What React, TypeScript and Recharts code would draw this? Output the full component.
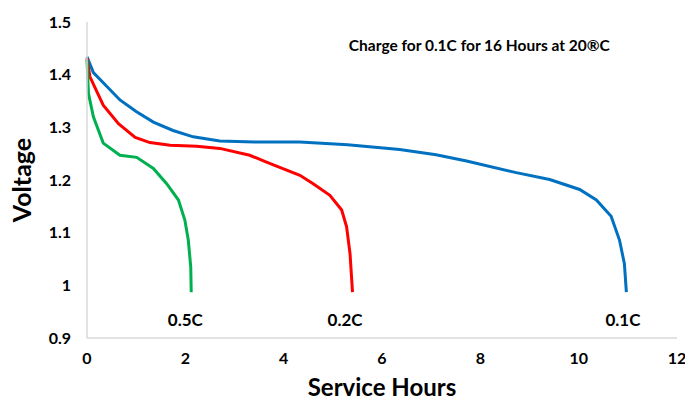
import React from 'react';
import { LineChart, Line, XAxis, YAxis, ReferenceDot, Label } from 'recharts';

// hours, volts
const rate01C = [
  { h: 0, v: 1.434 }, { h: 0.13, v: 1.404 }, { h: 0.4, v: 1.378 }, { h: 0.67, v: 1.352 },
  { h: 1.0, v: 1.33 }, { h: 1.35, v: 1.31 }, { h: 1.75, v: 1.294 }, { h: 2.16, v: 1.282 },
  { h: 2.7, v: 1.274 }, { h: 3.4, v: 1.272 }, { h: 4.33, v: 1.272 }, { h: 5.3, v: 1.267 },
  { h: 6.36, v: 1.258 }, { h: 7.1, v: 1.248 }, { h: 7.72, v: 1.236 }, { h: 8.73, v: 1.214 },
  { h: 9.41, v: 1.201 }, { h: 10.02, v: 1.182 }, { h: 10.36, v: 1.162 }, { h: 10.66, v: 1.131 },
  { h: 10.83, v: 1.086 }, { h: 10.93, v: 1.041 }, { h: 10.97, v: 0.987 },
];

const rate02C = [
  { h: 0, v: 1.431 }, { h: 0.06, v: 1.396 }, { h: 0.33, v: 1.342 }, { h: 0.64, v: 1.307 },
  { h: 0.98, v: 1.281 }, { h: 1.28, v: 1.271 }, { h: 1.69, v: 1.266 }, { h: 2.23, v: 1.264 },
  { h: 2.7, v: 1.26 }, { h: 3.31, v: 1.247 }, { h: 3.65, v: 1.234 }, { h: 4.33, v: 1.209 },
  { h: 4.6, v: 1.193 }, { h: 4.94, v: 1.171 }, { h: 5.18, v: 1.143 }, { h: 5.28, v: 1.111 },
  { h: 5.35, v: 1.06 }, { h: 5.4, v: 0.987 },
];

const rate05C = [
  { h: 0, v: 1.428 }, { h: 0.03, v: 1.364 }, { h: 0.13, v: 1.32 }, { h: 0.33, v: 1.27 },
  { h: 0.67, v: 1.247 }, { h: 1.01, v: 1.243 }, { h: 1.35, v: 1.222 }, { h: 1.62, v: 1.193 },
  { h: 1.86, v: 1.162 }, { h: 1.99, v: 1.124 }, { h: 2.06, v: 1.086 }, { h: 2.11, v: 1.035 },
  { h: 2.12, v: 0.987 },
];

const hourTicks = [0, 2, 4, 6, 8, 10, 12];
const voltTicks = [0.9, 1, 1.1, 1.2, 1.3, 1.4, 1.5];

const curveLabels = [
  { name: '0.5C', h: 2.0, v: 0.935 },
  { name: '0.2C', h: 5.25, v: 0.935 },
  { name: '0.1C', h: 10.9, v: 0.935 },
];

const note = { text: 'Charge for 0.1C for 16 Hours at 20®C', h: 7.98, v: 1.456 };

const font = 'Lato, "Open Sans", sans-serif';
const tickStyle = { fontFamily: font, fontSize: 16, fontWeight: 700, fill: '#000' };

export default function App() {
  return (
    <div style={{ position: 'absolute', left: 0, top: 0, width: 685, height: 403, background: '#fff' }}>
      <LineChart width={685} height={403} margin={{ top: 22, right: 8, bottom: 35, left: 37 }}>
        <XAxis
          type="number"
          dataKey="h"
          domain={[0, 12]}
          ticks={hourTicks}
          tickLine={false}
          tickMargin={9}
          axisLine={{ stroke: '#d9d9d9', strokeWidth: 1.5 }}
          tick={tickStyle}
          height={30}
          allowDuplicatedCategory={false}
        >
          <Label value="Service Hours" position="bottom" offset={11}
            style={{ fontFamily: font, fontSize: 24, fontWeight: 700, fill: '#000' }} />
        </XAxis>
        <YAxis
          type="number"
          domain={[0.9, 1.5]}
          ticks={voltTicks}
          tickLine={false}
          tickMargin={10}
          axisLine={{ stroke: '#d9d9d9', strokeWidth: 1.5 }}
          tick={tickStyle}
          width={50}
        >
          <Label value="Voltage" angle={-90} position="left" offset={15}
            style={{ fontFamily: font, fontSize: 25, fontWeight: 700, fill: '#000', textAnchor: 'middle' }} />
        </YAxis>
        <Line data={rate01C} dataKey="v" type="linear" stroke="#0070C0" strokeWidth={3} dot={false} isAnimationActive={false} />
        <Line data={rate02C} dataKey="v" type="linear" stroke="#FF0000" strokeWidth={3} dot={false} isAnimationActive={false} />
        <Line data={rate05C} dataKey="v" type="linear" stroke="#00B050" strokeWidth={3} dot={false} isAnimationActive={false} />
        {curveLabels.map((c) => (
          <ReferenceDot key={c.name} x={c.h} y={c.v} r={0} stroke="none" fill="none"
            label={{ value: c.name, position: 'center', style: { fontFamily: font, fontSize: 17, fontWeight: 700, fill: '#000' } }} />
        ))}
        <ReferenceDot x={note.h} y={note.v} r={0} stroke="none" fill="none"
          label={{ value: note.text, position: 'center', style: { fontFamily: font, fontSize: 15.5, fontWeight: 700, fill: '#000' } }} />
      </LineChart>
    </div>
  );
}
